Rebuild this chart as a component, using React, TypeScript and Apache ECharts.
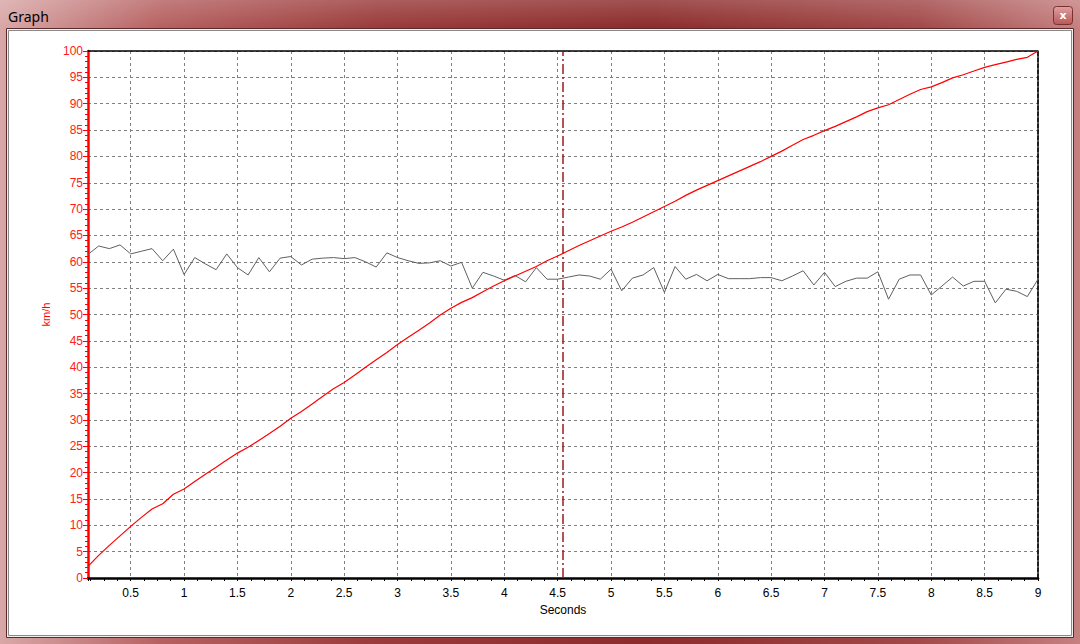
import React, { useEffect, useRef } from "react";
import * as echarts from "echarts";

const TITLE = "Graph";
const X_NAME = "Seconds";
const Y_NAME = "km/h";
const X_MIN = 0.1;
const X_MAX = 9;
const Y_MIN = 0;
const Y_MAX = 100;
const Y_STEP = 5;
const CURSOR_TIME = 4.55;

const TIME = [
  0.1, 0.2, 0.3, 0.4, 0.5, 0.6, 0.7, 0.8, 0.9, 1.0,
  1.1, 1.2, 1.3, 1.4, 1.5, 1.6, 1.7, 1.8, 1.9, 2.0,
  2.1, 2.2, 2.3, 2.4, 2.5, 2.6, 2.7, 2.8, 2.9, 3.0,
  3.1, 3.2, 3.3, 3.4, 3.5, 3.6, 3.7, 3.8, 3.9, 4.0,
  4.1, 4.2, 4.3, 4.4, 4.5, 4.6, 4.7, 4.8, 4.9, 5.0,
  5.1, 5.2, 5.3, 5.4, 5.5, 5.6, 5.7, 5.8, 5.9, 6.0,
  6.1, 6.2, 6.3, 6.4, 6.5, 6.6, 6.7, 6.8, 6.9, 7.0,
  7.1, 7.2, 7.3, 7.4, 7.5, 7.6, 7.7, 7.8, 7.9, 8.0,
  8.1, 8.2, 8.3, 8.4, 8.5, 8.6, 8.7, 8.8, 8.9, 9.0,
];

const SPEED = [
  2.2, 4.3, 6.2, 8.0, 9.8, 11.5, 13.1, 14.1, 15.9, 16.9,
  18.3, 19.7, 21.0, 22.4, 23.7, 24.8, 26.1, 27.4, 28.8, 30.3,
  31.6, 33.0, 34.5, 35.9, 37.1, 38.5, 40.0, 41.4, 42.8, 44.3,
  45.7, 47.0, 48.4, 49.9, 51.2, 52.3, 53.2, 54.3, 55.4, 56.4,
  57.3, 58.2, 59.1, 60.2, 61.1, 62.1, 63.1, 64.0, 64.9, 65.8,
  66.6, 67.5, 68.5, 69.5, 70.5, 71.5, 72.6, 73.6, 74.5, 75.4,
  76.3, 77.2, 78.1, 79.0, 80.0, 81.0, 82.1, 83.2, 84.0, 84.9,
  85.7, 86.6, 87.5, 88.5, 89.2, 89.8, 90.8, 91.8, 92.7, 93.2,
  94.0, 94.9, 95.5, 96.2, 96.9, 97.4, 97.9, 98.4, 98.8, 100.0,
];

const TRACE = [
  61.4, 63.0, 62.5, 63.2, 61.5, 62.0, 62.5, 60.2, 62.4, 57.6,
  60.8, 59.6, 58.5, 61.5, 58.9, 57.5, 60.8, 58.1, 60.7, 61.0,
  59.4, 60.5, 60.7, 60.8, 60.6, 60.8, 60.0, 59.0, 61.7, 60.8,
  60.2, 59.7, 59.8, 60.2, 59.2, 59.9, 55.0, 58.0, 57.3, 56.5,
  57.4, 56.2, 58.9, 56.7, 56.7, 57.1, 57.5, 57.3, 56.7, 58.6,
  54.5, 56.9, 57.5, 58.9, 54.2, 59.1, 56.7, 57.6, 56.4, 57.6,
  56.8, 56.8, 56.8, 57.0, 57.0, 56.4, 57.3, 58.3, 55.6, 58.0,
  55.3, 56.3, 56.9, 56.9, 58.1, 52.9, 56.7, 57.5, 57.5, 53.7,
  55.4, 57.1, 55.4, 56.3, 56.3, 52.2, 54.8, 54.4, 53.4, 56.7,
];

const FONT = "'Liberation Sans', Arial, sans-serif";

export default function App() {
  const ref = useRef<HTMLDivElement>(null);

  useEffect(() => {
    document.body.style.margin = "0";
    if (!ref.current) return;
    const chart = echarts.init(ref.current, null, { renderer: "svg" });

    const speedData = TIME.map((t, i) => [t, SPEED[i]]);
    const traceData = TIME.map((t, i) => [t, TRACE[i]]);

    const option: any = {
      animation: false,
      backgroundColor: "transparent",
      textStyle: { fontFamily: FONT },
      graphic: [
        {
          type: "rect",
          z: -20,
          silent: true,
          shape: { x: 0, y: 0, width: 1080, height: 644 },
          style: {
            fill: new echarts.graphic.LinearGradient(0, 0, 1, 0, [
              { offset: 0, color: "#d9a7a7" },
              { offset: 0.15, color: "#b66060" },
              { offset: 0.35, color: "#9a3a3a" },
              { offset: 0.6, color: "#8c2b2b" },
              { offset: 0.85, color: "#a24848" },
              { offset: 1, color: "#c68080" },
            ]),
          },
        },
        {
          type: "rect",
          z: -19,
          silent: true,
          shape: { x: 0, y: 0, width: 1080, height: 28 },
          style: {
            fill: new echarts.graphic.LinearGradient(0, 0, 0, 1, [
              { offset: 0, color: "rgba(255,255,255,0.18)" },
              { offset: 1, color: "rgba(255,255,255,0)" },
            ]),
          },
        },
        {
          type: "rect",
          z: -18,
          silent: true,
          shape: { x: 6.5, y: 28.5, width: 1067, height: 609 },
          style: { fill: "#f0f0f0", stroke: "#5a2a2a", lineWidth: 1 },
        },
        {
          type: "rect",
          z: -17,
          silent: true,
          shape: { x: 8.5, y: 30.5, width: 1063, height: 605 },
          style: { fill: "#ffffff", stroke: "#8a8a8a", lineWidth: 1 },
        },
        {
          type: "text",
          z: -10,
          silent: true,
          x: 8,
          y: 16,
          style: {
            text: TITLE,
            fill: "#000000",
            font: "14px 'Noto Sans', 'DejaVu Sans', sans-serif",
            verticalAlign: "middle",
            textAlign: "left",
          },
        },
        {
          type: "rect",
          z: -10,
          silent: true,
          shape: { x: 1053.5, y: 6.5, width: 19, height: 18, r: 3 },
          style: {
            fill: new echarts.graphic.LinearGradient(0, 0, 0, 1, [
              { offset: 0, color: "#e0a0a0" },
              { offset: 1, color: "#b85858" },
            ]),
            stroke: "#7a3030",
            lineWidth: 1,
          },
        },
        {
          type: "text",
          z: -9,
          silent: true,
          x: 1063,
          y: 15,
          style: {
            text: "x",
            fill: "#ffffff",
            font: "bold 11px 'DejaVu Sans', sans-serif",
            textAlign: "center",
            verticalAlign: "middle",
          },
        },
      ],
      grid: {
        left: 88,
        right: 42,
        top: 51,
        bottom: 66,
        containLabel: false,
      },
      xAxis: [
        {
          type: "value",
          min: X_MIN,
          max: X_MAX,
          splitNumber: 18,
          name: X_NAME,
          nameLocation: "middle",
          nameGap: 24,
          nameTextStyle: { color: "#000000", fontSize: 12, fontFamily: FONT },
          axisLine: { show: true, onZero: false, lineStyle: { color: "#000000", width: 2.5 } },
          axisTick: { show: true, length: 3, lineStyle: { color: "#000000", width: 1 } },
          minorTick: { show: true, splitNumber: 4, length: 3, lineStyle: { color: "#000000", width: 1 } },
          axisLabel: {
            color: "#000000",
            fontSize: 12,
            fontFamily: FONT,
            margin: 9,
            formatter: (v: number) =>
              Math.abs(v * 2 - Math.round(v * 2)) < 1e-6 ? String(v) : "",
          },
          splitLine: {
            show: true,
            lineStyle: { color: "#808080", type: [3, 3], width: 1 },
          },
        },
        {
          type: "value",
          position: "top",
          min: X_MIN,
          max: X_MAX,
          axisLine: { show: true, onZero: false, lineStyle: { color: "#000000", width: 1.5 } },
          axisTick: { show: false },
          axisLabel: { show: false },
          splitLine: { show: false },
        },
      ],
      yAxis: [
        {
          type: "value",
          min: Y_MIN,
          max: Y_MAX,
          interval: Y_STEP,
          name: Y_NAME,
          nameLocation: "middle",
          nameGap: 37,
          nameTextStyle: { color: "#ff0000", fontSize: 11, fontFamily: FONT },
          axisLine: { show: true, onZero: false, lineStyle: { color: "#ff0000", width: 2.5 } },
          axisTick: { show: true, length: 5, lineStyle: { color: "#ff0000", width: 1 } },
          minorTick: { show: true, splitNumber: 5, length: 3, lineStyle: { color: "#ff0000", width: 1 } },
          axisLabel: { color: "#ff2020", fontSize: 12, fontFamily: FONT, margin: 5 },
          splitLine: {
            show: true,
            lineStyle: { color: "#808080", type: [3, 3], width: 1 },
          },
        },
        {
          type: "value",
          position: "right",
          min: Y_MIN,
          max: Y_MAX,
          interval: Y_STEP,
          axisLine: { show: true, onZero: false, lineStyle: { color: "#202020", width: 2, type: [4, 2] } },
          axisTick: { show: false },
          axisLabel: { show: false },
          splitLine: { show: false },
        },
      ],
      series: [
        {
          type: "line",
          name: "trace",
          data: traceData,
          showSymbol: false,
          symbol: "none",
          lineStyle: { color: "#606060", width: 1 },
          z: 3,
        },
        {
          type: "line",
          name: "speed",
          data: speedData,
          showSymbol: false,
          symbol: "none",
          lineStyle: { color: "#ff0000", width: 1.2 },
          z: 4,
          markLine: {
            silent: true,
            symbol: ["none", "none"],
            label: { show: false },
            lineStyle: { color: "#9b1c1c", type: [10, 3, 2, 3], width: 1.5 },
            data: [{ xAxis: CURSOR_TIME }],
          },
        },
      ],
    };

    chart.setOption(option);
    return () => {
      chart.dispose();
    };
  }, []);

  return <div ref={ref} style={{ width: 1080, height: 644 }} />;
}
